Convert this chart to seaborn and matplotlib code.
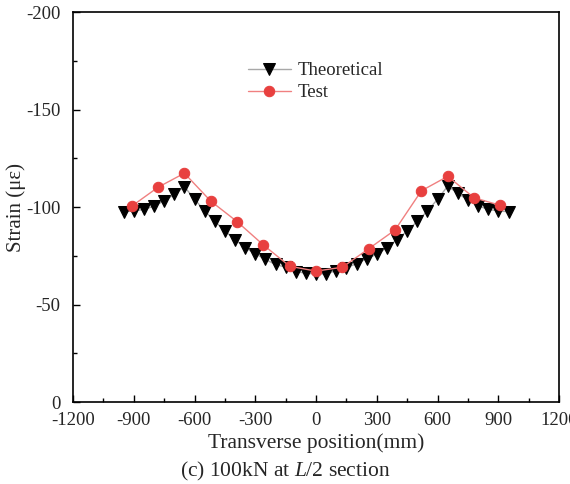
import matplotlib
matplotlib.use("Agg")
import matplotlib.pyplot as plt
import seaborn as sns
import numpy as np
import pandas as pd
from matplotlib.ticker import MultipleLocator

theo_x = [-950, -900, -850, -800, -750, -700, -650, -600, -550, -500, -450, -400, -350, -300,
          -250, -200, -150, -100, -50, 0, 50, 100, 150, 200, 250, 300, 350, 400, 450, 500,
          550, 600, 650, 700, 750, 800, 850, 900, 950]
theo_y = [-97.6, -98.1, -98.8, -100.5, -103.2, -106.5, -110.5, -104.1, -98.1, -92.8, -87.8, -83.4,
          -79.2, -76.1, -73.2, -70.6, -69.2, -67.0, -66.1, -65.8, -65.8, -67.5, -69.0, -71.0,
          -73.6, -75.8, -79.2, -83.4, -87.8, -92.8, -98.1, -104.1, -110.8, -107.1, -103.6,
          -100.7, -98.8, -98.1, -97.6]
test_x = [-910, -780, -650, -520, -390, -260, -130, 0, 130, 260, 390, 520, 650, 780, 910]
test_y = [-100.5, -110.2, -117.4, -103.1, -92.6, -80.6, -69.7, -67.2, -69.2, -78.7, -88.3,
          -108.4, -115.8, -104.8, -100.9]
x_ticks = [-1200, -900, -600, -300, 0, 300, 600, 900, 1200]
y_ticks = [-200, -150, -100, -50, 0]

sns.set_style("ticks")
plt.rcParams['font.family'] = ['Liberation Serif', 'DejaVu Serif']
plt.rcParams['axes.unicode_minus'] = False
plt.rcParams['mathtext.fontset'] = 'custom'
plt.rcParams['mathtext.rm'] = 'Liberation Serif'
plt.rcParams['mathtext.it'] = 'Liberation Serif:italic'

fig = plt.figure(figsize=(5.7, 4.84), dpi=100)
ax = fig.add_axes([0.128, 0.169, 0.853, 0.806])

df_t = pd.DataFrame({"x": theo_x, "y": theo_y})
df_s = pd.DataFrame({"x": test_x, "y": test_y})
sns.lineplot(data=df_t, x="x", y="y", ax=ax, sort=False, color="#a8a8a8", lw=1.0,
             marker="v", markersize=8.5, markerfacecolor="black", markeredgecolor="black",
             label="Theoretical")
sns.lineplot(data=df_s, x="x", y="y", ax=ax, sort=False, color="#f08080", lw=1.0,
             marker="o", markersize=7.5, markerfacecolor="#e8403f", markeredgecolor="#e8403f",
             label="Test")

ax.set_xlim(-1200, 1200)
ax.set_ylim(0, -200)
ax.set_xticks(x_ticks)
ax.set_yticks(y_ticks)
ax.xaxis.set_minor_locator(MultipleLocator(150))
ax.yaxis.set_minor_locator(MultipleLocator(25))
ax.tick_params(which='both', direction='in', top=False, right=False, labelsize=13.5,
               width=1.0, color='black')
ax.tick_params(which='major', length=5)
ax.tick_params(which='minor', length=3)
ax.tick_params(axis='x', pad=7)
ax.tick_params(axis='y', pad=9)
for s in ax.spines.values():
    s.set_linewidth(1.2)
    s.set_color('black')
ax.set_xlabel("Transverse position(mm)", fontsize=15.5, labelpad=3)
ax.set_ylabel("Strain (\u03bc\u03b5)", fontsize=15, labelpad=0)

ax.legend(loc='upper left', bbox_to_anchor=(0.325, 0.915), frameon=False, fontsize=13.5,
          handlelength=2.3, labelspacing=0.25, handletextpad=0.35)

fig.text(0.5, 0.003, "(c) 100kN at $\\mathit{L}$/2 section", ha='center', va='bottom', fontsize=15.5)

fig.savefig("out.png", dpi=100)
